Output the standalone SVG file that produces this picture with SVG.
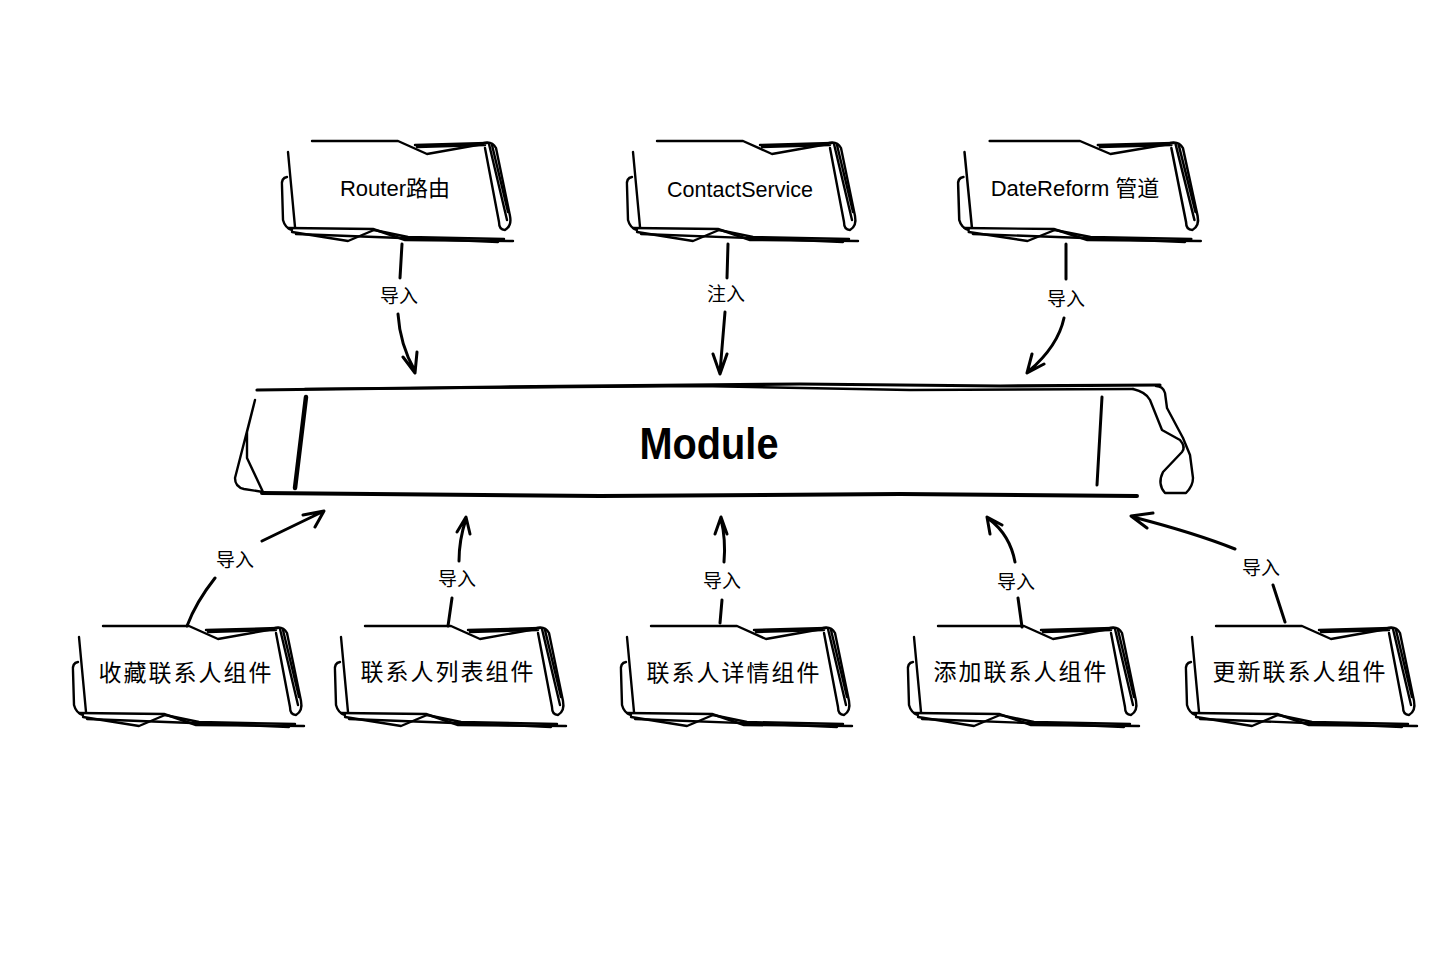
<svg xmlns="http://www.w3.org/2000/svg" xmlns:xlink="http://www.w3.org/1999/xlink" width="1450" height="964" viewBox="0 0 1450 964">
<style>
.s{fill:none;stroke:#000;stroke-width:2.4;stroke-linecap:round;stroke-linejoin:round}
.c{fill:none;stroke:#000;stroke-width:3;stroke-linecap:round;stroke-linejoin:round}
.t{font-family:"Liberation Sans","Noto Sans CJK SC",sans-serif;font-size:22px;fill:#000;text-anchor:middle}
.z{font-family:"Noto Sans CJK SC",sans-serif;font-size:23px;fill:#000;text-anchor:middle;letter-spacing:2px}
.l{font-family:"Noto Sans CJK SC",sans-serif;font-size:19px;fill:#000;text-anchor:middle}
</style>
<defs>
<g id="box">
<path class="s" d="M34,1 L120,1 L149,14 L205,4"/>
<path class="s" d="M137,5 L209,3 M139,7 L207,5"/>
<path class="s" d="M206,3 Q214,1 218,8 L232,76 Q234,86 227,90 Q221,90 221,82 L207,8"/>
<path class="s" d="M211,4 L229,80 M214,5 L230,72"/>
<path class="s" d="M10,12 L17,87"/>
<path class="s" d="M9,37 Q3,38 4,46 L5,80 Q7,88 14,90"/>
<path class="s" d="M10,88 L95,89 L127,100 L235,101"/>
<path class="s" d="M14,92 L70,101 L96,90 L130,97 L226,99"/>
<path class="s" d="M18,94 L150,99 L220,102"/>
</g>
</defs>
<rect width="1450" height="964" fill="#fff"/>
<g id="connectors">
<path class="c" d="M402,244 L400,278 M398,314 Q400,345 415,371 M403,357 L415,373 L417,352"/>
<path class="c" d="M728,244 L727,278 M725,312 L720,372 M713,354 L720,374 L727,354"/>
<path class="c" d="M1066,244 L1066,279 M1064,318 Q1058,346 1029,371 M1032,354 L1027,373 L1044,364"/>
<path class="c" d="M187,626 Q196,602 215,578 M262,541 L322,512 M303,515 L324,511 L315,527"/>
<path class="c" d="M448,626 L452,598 M459,561 Q459,540 466,519 M457,532 L466,517 L470,534"/>
<path class="c" d="M720,623 L722,600 M724,562 Q726,540 721,519 M715,534 L721,517 L727,534"/>
<path class="c" d="M1022,627 L1018,598 M1015,562 Q1010,535 989,519 M990,534 L987,517 L1002,525"/>
<path class="c" d="M1285,622 L1273,585 M1235,549 Q1195,533 1133,517 M1153,513 L1131,516 L1147,528"/>
<text class="l" x="399" y="303">导入</text>
<text class="l" x="726" y="301">注入</text>
<text class="l" x="1066" y="306">导入</text>
<text class="l" x="235" y="567">导入</text>
<text class="l" x="457" y="586">导入</text>
<text class="l" x="722" y="588">导入</text>
<text class="l" x="1016" y="589">导入</text>
<text class="l" x="1261" y="575">导入</text>
</g>
<g id="module">
<path d="M257,390 L500,387 L800,384 L1000,386 L1160,385" fill="none" stroke="#000" stroke-width="3.2" stroke-linecap="round"/>
<path class="s" d="M305,389 L700,386 L910,390 L1133,389"/>
<path class="s" stroke-width="3" d="M1133,389 Q1146,392 1150,400 L1162,430 L1180,440 Q1186,447 1182,452 L1163,472 Q1157,484 1165,493 L1186,493 Q1193,486 1193,478 L1190,455 L1183,438 L1167,408 L1165,393 Q1163,386 1156,386"/>
<path d="M1102,397 L1097,485" fill="none" stroke="#000" stroke-width="3" stroke-linecap="round"/>
<path d="M262,493 L600,496 L900,494 L1137,496" fill="none" stroke="#000" stroke-width="4" stroke-linecap="round"/>
<path class="s" stroke-width="3" d="M255,400 L247,432 L247,458 L263,492 M255,400 L235,478 Q235,487 244,489 L263,492"/>
<path d="M306,397 L295,488" fill="none" stroke="#000" stroke-width="4.5" stroke-linecap="round"/>
<text x="709" y="459" font-family="Liberation Sans,sans-serif" font-size="44" font-weight="bold" text-anchor="middle" textLength="139" lengthAdjust="spacingAndGlyphs">Module</text>
</g>
<g id="router"><use xlink:href="#box" x="278" y="140"/><text class="t" x="395" y="196">Router路由</text></g>
<g id="contactservice"><use xlink:href="#box" x="623" y="140"/><text class="t" x="740" y="197" textLength="146" lengthAdjust="spacingAndGlyphs">ContactService</text></g>
<g id="datereform"><use xlink:href="#box" transform="translate(954,140) scale(1.05,1)"/><text class="t" x="1075" y="196">DateReform 管道</text></g>
<g id="favorite"><use xlink:href="#box" x="69" y="625"/><text class="z" x="186" y="681">收藏联系人组件</text></g>
<g id="list"><use xlink:href="#box" x="331" y="625"/><text class="z" x="448" y="680">联系人列表组件</text></g>
<g id="detail"><use xlink:href="#box" x="617" y="625"/><text class="z" x="734" y="681">联系人详情组件</text></g>
<g id="add"><use xlink:href="#box" x="904" y="625"/><text class="z" x="1021" y="680">添加联系人组件</text></g>
<g id="update"><use xlink:href="#box" x="1182" y="625"/><text class="z" x="1300" y="680">更新联系人组件</text></g>
</svg>
